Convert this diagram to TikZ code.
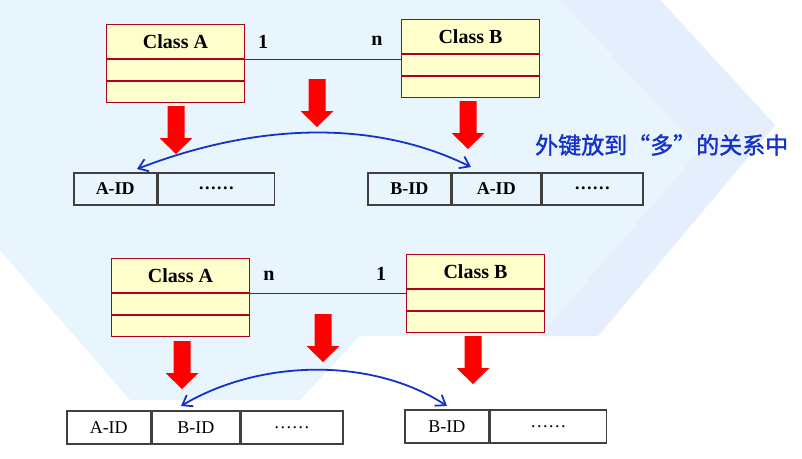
\documentclass[tikz,border=0pt]{standalone}
\usepackage{fontspec}
\setmainfont{Liberation Serif}
\newfontfamily\cjk[FakeBold=1.5]{Noto Sans CJK SC}
\usetikzlibrary{arrows.meta}

\definecolor{clsred}{RGB}{176,0,32}
\definecolor{clsfill}{RGB}{255,255,204}
\definecolor{fkblue}{RGB}{20,50,200}
\definecolor{bgblue}{RGB}{233,245,252}
\definecolor{bgblue2}{RGB}{228,237,252}

\tikzset{
  clshead/.style={draw=clsred, fill=clsfill, line width=1pt, minimum width=138pt,
    minimum height=34pt, inner sep=0pt, anchor=north west,
    font=\bfseries\fontsize{20pt}{22pt}\selectfont},
  clspart/.style={draw=clsred, fill=clsfill, line width=1pt, minimum width=138pt,
    minimum height=21pt, inner sep=0pt, anchor=north},
  assoc/.style={draw=clsred, line width=1pt},
  mult/.style={font=\bfseries\fontsize{20pt}{22pt}\selectfont},
  cell/.style={draw=black!75, line width=1.5pt, minimum height=32pt, inner sep=0pt,
    anchor=north west, font=\fontsize{18pt}{20pt}\selectfont},
  fk/.style={draw=fkblue, line width=1.8pt,
    {Straight Barb[length=9pt,width=13pt]}-{Straight Barb[length=9pt,width=13pt]}},
  bigdown/.pic={
    \fill[red] (-8.5,0) -- ++(17,0) -- ++(0,32) -- ++(8,0) -- ++(-16.5,16)
      -- ++(-16.5,-16) -- ++(8,0) -- cycle;
  }
}

\begin{document}
\begin{tikzpicture}[x=1pt, y=-1pt]
\useasboundingbox (0,0) rectangle (802,458);

% background
\fill[white] (0,0) rectangle (802,458);
\fill[bgblue] (0,0) -- (660,0) -- (775,125) -- (598,336) -- (360,336) -- (300,400)
  -- (130,400) -- (0,250) -- cycle;
\fill[bgblue2, opacity=0.8] (560,0) -- (660,0) -- (775,125) -- (598,336) -- (540,336)
  -- (700,150) -- cycle;

% one to many
\node[clshead] (topA) at (106,24) {Class A};
\node[clspart] (topAattr) at (topA.south) {};
\node[clspart] (topAop) at (topAattr.south) {};

\node[clshead] (topB) at (401,19) {Class B};
\node[clspart] (topBattr) at (topB.south) {};
\node[clspart] (topBop) at (topBattr.south) {};

\draw[assoc] (topAattr.north east) -- (topAattr.north east -| topB.west);
\node[mult] (topone) at (263,42) {1};
\node[mult] (topn) at (377,41) {n};

\pic at (176,106) {bigdown};
\pic at (317,79) {bigdown};
\pic at (468,101) {bigdown};

\node[cell, minimum width=83pt, font=\bfseries\fontsize{18pt}{20pt}\selectfont] (topAid) at (73,172) {A-ID};
\node[cell, minimum width=116pt, font=\bfseries\fontsize{18pt}{20pt}\selectfont] (topAdots) at (topAid.north east) {……};

\node[cell, minimum width=83pt, font=\bfseries\fontsize{18pt}{20pt}\selectfont] (topBid) at (367,172) {B-ID};
\node[cell, minimum width=88pt, font=\bfseries\fontsize{18pt}{20pt}\selectfont] (topBfk) at (topBid.north east) {A-ID};
\node[cell, minimum width=101pt, font=\bfseries\fontsize{18pt}{20pt}\selectfont] (topBdots) at (topBfk.north east) {……};

\coordinate (topfkA) at (137,169);
\coordinate (topfkB) at (471,167);
\draw[fk] (topfkA) .. controls (262,121) and (378,121) .. (topfkB);

\node[font=\cjk\fontsize{23pt}{25pt}\selectfont, text=fkblue, anchor=west, inner sep=0pt] (fknote) at (535,145) {外键放到“多”的关系中};

% many to one
\node[clshead] (botA) at (111,258) {Class A};
\node[clspart] (botAattr) at (botA.south) {};
\node[clspart] (botAop) at (botAattr.south) {};

\node[clshead] (botB) at (406,254) {Class B};
\node[clspart] (botBattr) at (botB.south) {};
\node[clspart] (botBop) at (botBattr.south) {};

\draw[assoc] (botAattr.north east) -- (botAattr.north east -| botB.west);
\node[mult] (botn) at (269,276) {n};
\node[mult] (botone) at (381,274) {1};

\pic at (182,341) {bigdown};
\pic at (323,314) {bigdown};
\pic at (473,336) {bigdown};

\node[cell, minimum width=84pt, minimum height=33pt] (botAid) at (66,410) {A-ID};
\node[cell, minimum width=87pt, minimum height=33pt] (botAfk) at (botAid.north east) {B-ID};
\node[cell, minimum width=102pt, minimum height=33pt] (botAdots) at (botAfk.north east) {……};

\node[cell, minimum width=84pt, minimum height=33pt] (botBid) at (404,409) {B-ID};
\node[cell, minimum width=116pt, minimum height=33pt] (botBdots) at (botBid.north east) {……};

\coordinate (botfkA) at (181,406);
\coordinate (botfkB) at (447,406);
\draw[fk] (botfkA) .. controls (262,358) and (374,358) .. (botfkB);
\end{tikzpicture}
\end{document}
